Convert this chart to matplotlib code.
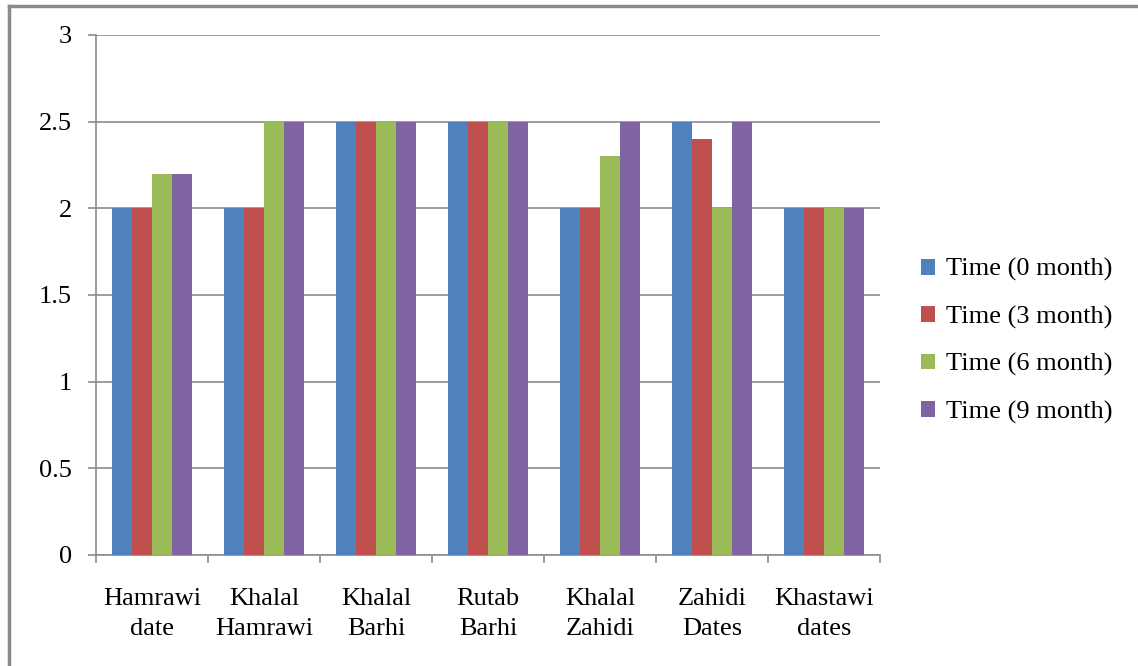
import matplotlib
matplotlib.use("Agg")
import matplotlib.pyplot as plt
from matplotlib.lines import Line2D
from matplotlib.ticker import FixedLocator, NullFormatter
import numpy as np

categories = ["Hamrawi\ndate", "Khalal\nHamrawi", "Khalal\nBarhi", "Rutab\nBarhi",
              "Khalal\nZahidi", "Zahidi\nDates", "Khastawi\ndates"]
series_names = ["Time (0 month)", "Time (3 month)", "Time (6 month)", "Time (9 month)"]
t0 = [2.0, 2.0, 2.5, 2.5, 2.0, 2.5, 2.0]
t3 = [2.0, 2.0, 2.5, 2.5, 2.0, 2.4, 2.0]
t6 = [2.2, 2.5, 2.5, 2.5, 2.3, 2.0, 2.0]
t9 = [2.2, 2.5, 2.5, 2.5, 2.5, 2.5, 2.0]
y_ticks = [0, 0.5, 1, 1.5, 2, 2.5, 3]
y_labels = ["0", "0.5", "1", "1.5", "2", "2.5", "3"]

colors = ["#4F81BD", "#C0504D", "#9BBB59", "#8064A2"]
plt.rcParams['font.family'] = ['Liberation Serif', 'DejaVu Serif']

fig = plt.figure(figsize=(11.38, 6.66), dpi=100)
ax = fig.add_axes([0.0844, 0.1667, 0.689, 0.7808])

x = np.arange(len(categories))
w = 0.1786
series = [t0, t3, t6, t9]
for i, (vals, name, c) in enumerate(zip(series, series_names, colors)):
    ax.bar(x + (i - 1.5) * w, vals, width=w, color=c, label=name, zorder=3, linewidth=0)

ax.set_xlim(-0.5, len(categories) - 0.5)
ax.set_ylim(0, 3)
ax.set_yticks(y_ticks)
ax.set_yticklabels(y_labels, fontsize=19)
ax.yaxis.grid(True, color="#8c8c8c", linewidth=1.2, zorder=0)
ax.set_axisbelow(True)

ax.set_xticks(x)
ax.set_xticklabels(categories, fontsize=19, linespacing=1.45)
ax.tick_params(axis='x', which='major', length=0, pad=24)
ax.xaxis.set_minor_locator(FixedLocator(np.arange(-0.5, len(categories), 1.0)))
ax.xaxis.set_minor_formatter(NullFormatter())
ax.tick_params(axis='x', which='minor', length=5.8, color="#8c8c8c", width=1.2)
ax.tick_params(axis='y', length=5.8, color="#8c8c8c", width=1.2, pad=11.5)

for s in ["top", "right"]:
    ax.spines[s].set_visible(False)
for s in ["left", "bottom"]:
    ax.spines[s].set_color("#8c8c8c")
    ax.spines[s].set_linewidth(1.2)

leg = fig.legend(loc="center left", bbox_to_anchor=(0.800, 0.488), frameon=False,
                 fontsize=19, handlelength=0.55, handleheight=0.55, handletextpad=0.4,
                 labelspacing=0.92, borderaxespad=0)

# outer frame: only top and left edges visible
fig.add_artist(Line2D([0.008, 1.0], [0.9905, 0.9905], transform=fig.transFigure,
                      color="#8a8a8a", linewidth=2.5))
fig.add_artist(Line2D([0.008, 0.008], [0.0, 0.9905], transform=fig.transFigure,
                      color="#8a8a8a", linewidth=2.5))

fig.savefig("out.png", dpi=100)
